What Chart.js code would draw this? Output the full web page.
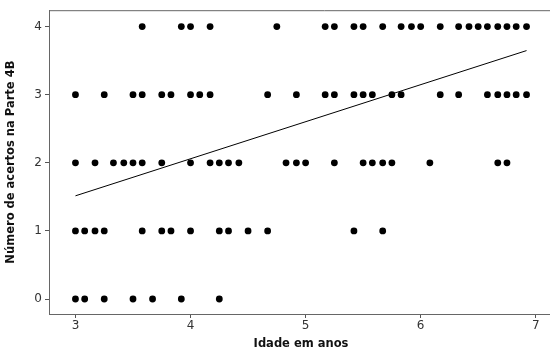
<!DOCTYPE html>
<html>
<head>
<meta charset="utf-8">
<script src="https://cdn.jsdelivr.net/npm/chart.js@4"></script>
<style>
  html, body { margin: 0; padding: 0; background: #fff; overflow: hidden; }
  #wrap { width: 600px; height: 355px; }
</style>
</head>
<body>
<div id="wrap"><canvas id="Chart1" width="600" height="355"></canvas></div>
<script>
// ages (years) for each score on Parte 4B
var ageScore4 = [3.58, 3.92, 4.0, 4.17, 4.75, 5.17, 5.25, 5.42, 5.5, 5.67, 5.83, 5.92, 6.0, 6.17, 6.33, 6.42, 6.5, 6.58, 6.67, 6.75, 6.83, 6.92];
var ageScore3 = [3.0, 3.25, 3.5, 3.58, 3.75, 3.83, 4.0, 4.08, 4.17, 4.67, 4.92, 5.17, 5.25, 5.42, 5.5, 5.58, 5.75, 5.83, 6.17, 6.33, 6.58, 6.67, 6.75, 6.83, 6.92];
var ageScore2 = [3.0, 3.17, 3.33, 3.42, 3.5, 3.58, 3.75, 4.0, 4.17, 4.25, 4.33, 4.42, 4.83, 4.92, 5.0, 5.25, 5.5, 5.58, 5.67, 5.75, 6.08, 6.67, 6.75];
var ageScore1 = [3.0, 3.08, 3.17, 3.25, 3.58, 3.75, 3.83, 4.0, 4.25, 4.33, 4.5, 4.67, 5.42, 5.67];
var ageScore0 = [3.0, 3.08, 3.25, 3.5, 3.67, 3.92, 4.25];

// fitted regression line (end points)
var fitX = [3.0, 6.92];
var fitY = [1.515, 3.647];

var xTicks = [3, 4, 5, 6, 7];
var yTicks = [0, 1, 2, 3, 4];

var points = [];
[ageScore0, ageScore1, ageScore2, ageScore3, ageScore4].forEach(function (ages, score) {
	ages.forEach(function (a) { points.push({ x: a, y: score }); });
});

var fitLine = fitX.map(function (x, i) { return { x: x, y: fitY[i] }; });

// top line of the frame, running off the right edge like the original
var framePlugin = {
	id: 'frame',
	afterDraw: function (chart) {
		var a = chart.chartArea, c = chart.ctx;
		c.save();
		c.strokeStyle = '#666';
		c.lineWidth = 1;
		c.beginPath();
		c.moveTo(a.left, a.top + 0.5);
		c.lineTo(chart.width, a.top + 0.5);
		c.moveTo(a.left, a.bottom + 0.5);
		c.lineTo(chart.width, a.bottom + 0.5);
		c.stroke();
		c.restore();
	}
};

var context = document.getElementById("Chart1").getContext("2d");

var myChart = new Chart(context, {
	type: 'scatter',
	data: {
		datasets: [{
			label: 'dados',
			data: points,
			backgroundColor: '#000',
			borderColor: '#000',
			pointRadius: 3.4,
			pointHoverRadius: 3.4,
			borderWidth: 0
		}, {
			type: 'line',
			label: 'ajuste',
			data: fitLine,
			borderColor: '#000',
			borderWidth: 1,
			pointRadius: 0,
			fill: false
		}]
	},
	plugins: [framePlugin],
	options: {
		responsive: false,
		animation: false,
		layout: { padding: { top: 6, right: 47, left: 0, bottom: 0 } },
		plugins: {
			legend: { display: false },
			tooltip: { enabled: false }
		},
		scales: {
			x: {
				type: 'linear',
				min: 2.77,
				max: 7.15,
				afterBuildTicks: function (s) { s.ticks = xTicks.map(function (v) { return { value: v }; }); },
				afterFit: function (s) { s.height = 41; },
				grid: { drawOnChartArea: false, drawTicks: true, tickLength: 4, color: '#555' },
				border: { color: '#666' },
				ticks: { color: '#333', font: { family: 'DejaVu Sans', size: 12 }, padding: 1 },
				title: {
					display: true,
					text: 'Idade em anos',
					color: '#111',
					font: { family: 'DejaVu Sans', size: 11.5, weight: 'bold' },
					padding: { top: 0 }
				}
			},
			y: {
				type: 'linear',
				min: -0.22,
				max: 4.24,
				afterBuildTicks: function (s) { s.ticks = yTicks.map(function (v) { return { value: v }; }); },
				afterFit: function (s) { s.width = 49; },
				grid: { drawOnChartArea: false, drawTicks: true, tickLength: 4, color: '#555' },
				border: { color: '#666' },
				ticks: { color: '#333', font: { family: 'DejaVu Sans', size: 12 }, padding: 3 },
				title: {
					display: true,
					text: 'Número de acertos na Parte 4B',
					color: '#111',
					font: { family: 'DejaVu Sans', size: 11.5, weight: 'bold' },
					padding: { bottom: 0 }
				}
			}
		}
	}
});
</script>
</body>
</html>
